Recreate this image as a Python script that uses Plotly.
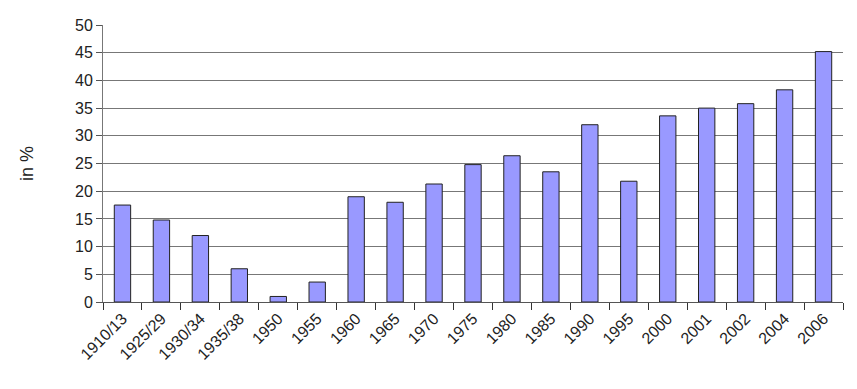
import plotly.graph_objects as go

categories = ["1910/13", "1925/29", "1930/34", "1935/38", "1950", "1955", "1960", "1965",
              "1970", "1975", "1980", "1985", "1990", "1995", "2000", "2001", "2002", "2004", "2006"]
values = [17.5, 14.8, 12.0, 6.0, 1.0, 3.6, 19.0, 18.0, 21.3, 24.8, 26.4, 23.5, 32.0, 21.8,
          33.6, 35.0, 35.8, 38.3, 45.2]
y_ticks = [0, 5, 10, 15, 20, 25, 30, 35, 40, 45, 50]

fig = go.Figure(go.Bar(
    x=categories, y=values,
    marker=dict(color="#9999FF", line=dict(color="#222222", width=1)),
))

fig.update_layout(
    width=857, height=389,
    margin=dict(l=103, r=14, t=25, b=87),
    paper_bgcolor="white", plot_bgcolor="white",
    bargap=0.58,
    showlegend=False,
    font=dict(family="Liberation Sans, Arial, sans-serif", size=16, color="#222222"),
)
fig.update_xaxes(
    type="category", tickangle=-45, tickson="boundaries",
    ticks="outside", ticklen=7, tickcolor="#333333",
    showline=True, linecolor="#555555", linewidth=1,
    showgrid=False, tickfont=dict(size=16),
)
fig.update_yaxes(
    range=[0, 50], tickvals=y_ticks, ticks="outside", ticklen=6, tickcolor="#555555",
    showline=True, linecolor="#777777", linewidth=1,
    showgrid=True, gridcolor="#777777", gridwidth=1,
    zeroline=False, tickfont=dict(size=16),
    title=dict(text="in %", font=dict(size=18), standoff=36),
)

fig.write_html("out.html")
